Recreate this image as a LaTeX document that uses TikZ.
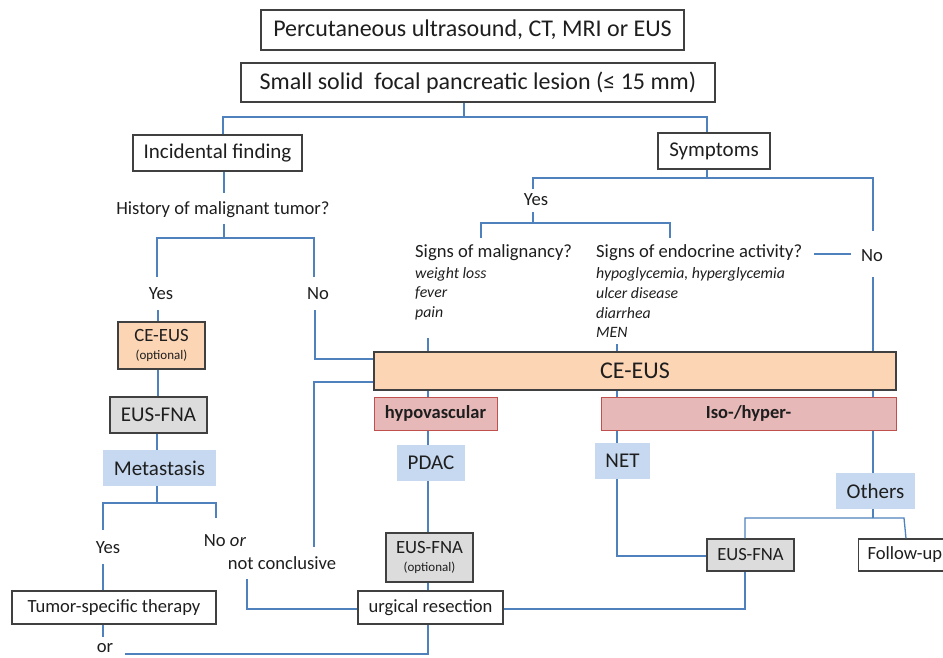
\documentclass[tikz,border=0pt]{standalone}
\usepackage{fontspec}
\setmainfont{Carlito}
\definecolor{lblue}{HTML}{4F81BD}
\definecolor{bdr}{HTML}{404040}
\definecolor{orf}{HTML}{FCD5B5}
\definecolor{grf}{HTML}{DCDCDC}
\definecolor{blf}{HTML}{C6D9F1}
\definecolor{pkf}{HTML}{E6B9B8}
\definecolor{pkd}{HTML}{C0504D}
\definecolor{txt}{HTML}{1E1E1E}
\begin{document}
\begin{tikzpicture}[x=1pt,y=-1pt,
  conn/.style={draw=lblue,line width=1.3pt},
  box/.style={draw=bdr,line width=1.2pt,inner sep=0pt,align=center,text=txt},
  obox/.style={box,fill=orf},
  gbox/.style={box,fill=grf},
  bbox/.style={inner sep=0pt,fill=blf,text=txt,align=center},
  pbox/.style={draw=pkd,line width=1pt,fill=pkf,inner sep=0pt,text=txt,font=\fontsize{18.5}{22}\selectfont\bfseries},
  lbl/.style={inner sep=0pt,text=txt},
  big/.style={font=\fontsize{24}{28}\selectfont},
  med/.style={font=\fontsize{21}{25}\selectfont},
  sml/.style={font=\fontsize{18.6}{22}\selectfont},
  twoline/.style={font=\fontsize{13}{18}\selectfont},
  ita/.style={lbl,anchor=west,font=\fontsize{15.8}{19}\selectfont\itshape}]
\useasboundingbox (0,0) rectangle (943,658);

% ---------- nodes ----------
\node[box,big,minimum width=423,minimum height=40] (top1) at (472.5,30) {Percutaneous ultrasound, CT, MRI or EUS};
\node[box,big,minimum width=474,minimum height=39] (top2) at (478,82.5) {Small solid\ \ focal pancreatic lesion (≤ 15 mm)};
\node[box,med,minimum width=169,minimum height=36] (incid) at (217.5,153) {Incidental finding};
\node[box,med,minimum width=112,minimum height=36] (sympt) at (714,151) {Symptoms};
\node[lbl,sml] (hist) at (223,210) {History of malignant tumor?};
\node[lbl,sml] (yes1) at (161,294) {Yes};
\node[lbl,sml] (no1) at (318,294) {No};
\node[obox,twoline,minimum width=87,minimum height=47] (ce1) at (161.5,345.5) {{\fontsize{18.7}{21}\selectfont CE-EUS}\\(optional)};
\node[gbox,med,minimum width=97,minimum height=36] (fna1) at (158.5,415) {EUS-FNA};
\node[bbox,med,minimum width=113,minimum height=36] (meta) at (159.5,468) {Metastasis};
\node[lbl,sml] (yes2) at (108,548) {Yes};
\node[lbl,sml] (noor) at (225,541) {No \textit{or}};
\node[lbl,sml] (notc) at (282,563) {not conclusive};
\node[box,sml,minimum width=204,minimum height=33] (tumor) at (114,607.5) {Tumor-specific therapy};
\node[lbl,sml] (or) at (105,648) {or};

\node[lbl,sml] (yes3) at (536,200) {Yes};
\node[lbl,sml,anchor=west] (sigm) at (415,253) {Signs of malignancy?};
\node[ita] (m1) at (415,274) {weight loss};
\node[ita] (m2) at (415,293) {fever};
\node[ita] (m3) at (415,313) {pain};
\node[lbl,sml,anchor=west] (sige) at (596,253) {Signs of endocrine activity?};
\node[ita] (e1) at (596,274) {hypoglycemia, hyperglycemia};
\node[ita] (e2) at (596,293) {ulcer disease};
\node[ita] (e3) at (596,313) {diarrhea};
\node[ita] (e4) at (596,332) {MEN};
\node[lbl,sml] (no3) at (872,256) {No};

\node[obox,minimum width=522,minimum height=38,font=\fontsize{24}{28}\selectfont] (ce2) at (635,371) {CE-EUS};
\node[pbox,minimum width=123,minimum height=33] (hypo) at (435.5,413.5) {hypovascular};
\node[pbox,minimum width=295,minimum height=33] (iso) at (748.5,413.5) {Iso-/hyper-};
\node[bbox,med,minimum width=68,minimum height=36] (pdac) at (431,463) {PDAC};
\node[bbox,med,minimum width=55,minimum height=36] (net) at (622.5,461) {NET};
\node[bbox,med,minimum width=79,minimum height=36] (oth) at (875.5,491) {Others};
\node[gbox,twoline,minimum width=87,minimum height=49] (fna2) at (429.5,557.5) {{\fontsize{18.7}{21}\selectfont EUS-FNA}\\(optional)};
\node[gbox,sml,minimum width=87,minimum height=32] (fna3) at (750.5,555) {EUS-FNA};
\node[box,sml,minimum width=110,minimum height=32,anchor=west,text width=100,align=left,inner xsep=9pt] (fol) at (858,555) {Follow-up};
\node[box,sml,minimum width=145,minimum height=33] (surg) at (430.5,607.5) {urgical resection};

% ---------- connectors ----------
\coordinate (a0) at (464,117);
\coordinate (aL) at (223,117);
\coordinate (aR) at (707,117);
\draw[conn] (top2.south -| a0) -- (a0);
\draw[conn] (incid.north -| aL) -- (aL) -- (aR) -- (sympt.north -| aR);

\coordinate (h0) at (224,193);
\coordinate (h1) at (224,224);
\coordinate (h2) at (224,238);
\coordinate (hL) at (157,238);
\coordinate (hR) at (314,238);
\coordinate (hLe) at (157,277);
\coordinate (hRe) at (314,277);
\draw[conn] (incid.south -| h0) -- (h0);
\draw[conn] (h1) -- (h2);
\draw[conn] (hLe) -- (hL) -- (hR) -- (hRe);

\coordinate (y1) at (158,310);
\draw[conn] (y1) -- (ce1.north -| y1);
\draw[conn] (ce1.south -| y1) -- (fna1.north -| y1);
\coordinate (f1) at (157,0);
\draw[conn] (fna1.south -| f1) -- (meta.north -| f1);
\coordinate (m0) at (157,503);
\coordinate (mL) at (103,503);
\coordinate (mR) at (216,503);
\coordinate (mLe) at (103,530);
\coordinate (mRe) at (216,518);
\draw[conn] (meta.south -| m0) -- (m0);
\draw[conn] (mLe) -- (mL) -- (mR) -- (mRe);
\coordinate (y2) at (103,564);
\draw[conn] (y2) -- (tumor.north -| y2);
\coordinate (t1) at (103,637);
\draw[conn] (tumor.south -| t1) -- (t1);
\coordinate (or1) at (125,654);
\coordinate (or2) at (428,654);
\draw[conn] (or1) -- (or2) -- (surg.south -| or2);

\coordinate (nc0) at (247,579);
\coordinate (nc1) at (247,609);
\draw[conn] (nc0) -- (nc1) -- (surg.west |- nc1);
\coordinate (nc2) at (314,547);
\coordinate (nc3) at (314,382);
\draw[conn] (nc2) -- (nc3) -- (ce2.west |- nc3);
\coordinate (n0) at (315,310);
\coordinate (n1) at (315,359);
\draw[conn] (n0) -- (n1) -- (ce2.west |- n1);

\coordinate (s0) at (707,178);
\coordinate (sL) at (533,178);
\coordinate (sR) at (873,178);
\coordinate (sLe) at (533,189);
\coordinate (sRe) at (873,231);
\draw[conn] (sympt.south -| s0) -- (s0);
\draw[conn] (sLe) -- (sL) -- (sR) -- (sRe);
\coordinate (q0) at (533,212);
\coordinate (q1) at (533,223);
\coordinate (qL) at (481,223);
\coordinate (qR) at (670,223);
\coordinate (qLe) at (481,238);
\coordinate (qRe) at (670,238);
\draw[conn] (q0) -- (q1);
\draw[conn] (qLe) -- (qL) -- (qR) -- (qRe);
\coordinate (ne0) at (814,254);
\coordinate (ne1) at (851,254);
\draw[conn] (ne0) -- (ne1);
\coordinate (no0) at (873,277);
\draw[conn] (no0) -- (ce2.north -| no0);
\coordinate (ml) at (428,338);
\draw[conn] (ml) -- (ce2.north -| ml);
\coordinate (mn) at (617,344);
\draw[conn] (mn) -- (ce2.north -| mn);

\draw[conn] (ce2.south -| ml) -- (hypo.north -| ml);
\draw[conn] (ce2.south -| mn) -- (iso.north -| mn);
\draw[conn] (ce2.south -| no0) -- (iso.north -| no0);
\draw[conn] (hypo.south -| ml) -- (pdac.north -| ml);
\draw[conn] (pdac.south -| ml) -- (fna2.north -| ml);
\draw[conn] (fna2.south -| ml) -- (surg.north -| ml);
\draw[conn] (iso.south -| mn) -- (net.north -| mn);
\coordinate (nt) at (617,556);
\draw[conn] (net.south -| mn) -- (nt) -- (fna3.west |- nt);
\draw[conn] (iso.south -| no0) -- (oth.north -| no0);
\coordinate (o0) at (873,518);
\coordinate (oL) at (745,518);
\coordinate (oR) at (904,518);
\coordinate (oRe) at (906,539);
\draw[conn] (oth.south -| o0) -- (o0);
\draw[conn] (fna3.north -| oL) -- (oL) -- (oR) -- (fol.north -| oRe);
\coordinate (fs) at (745,609);
\draw[conn] (fna3.south -| fs) -- (fs) -- (surg.east |- fs);
\end{tikzpicture}
\end{document}
